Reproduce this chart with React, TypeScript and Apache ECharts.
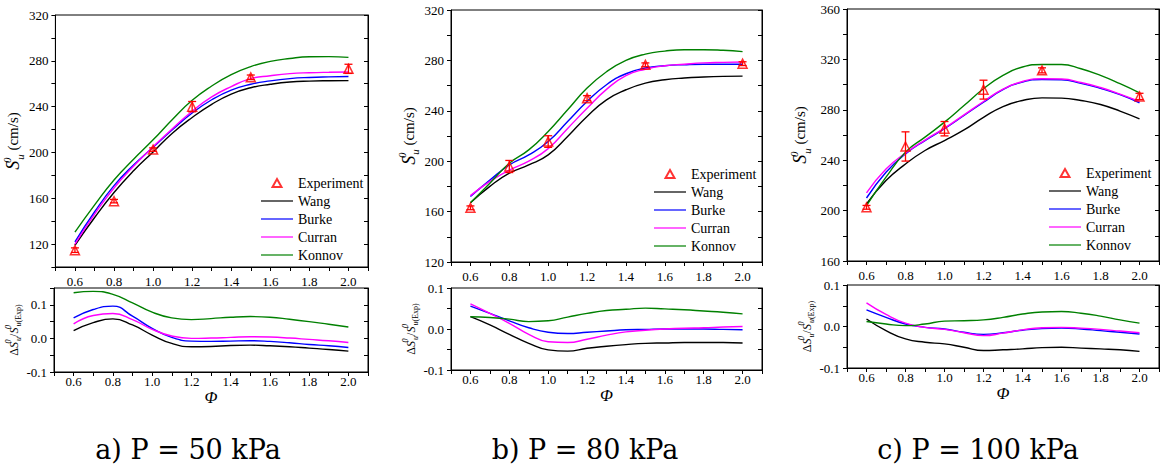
import { useEffect, useRef } from 'react';
import * as echarts from 'echarts';

// equivalence ratio grid used for the model curves
const phi = [0.6, 0.7, 0.8, 0.9, 1.0, 1.1, 1.2, 1.3, 1.4, 1.5, 1.6, 1.7, 1.8, 1.9, 2.0];
const expPhi = [0.6, 0.8, 1.0, 1.2, 1.5, 2.0];
const modelNames = ['Wang', 'Burke', 'Curran', 'Konnov'];
const modelColors = ['#000000', '#0000ff', '#ff00ff', '#008000'];
const captions = ['a) P = 50 kPa', 'b) P = 80 kPa', 'c) P = 100 kPa'];

// P = 50 kPa
const wang50 = [119, 143, 165, 184, 200.5, 217, 230.5, 242, 251, 256.5, 259.5, 261.5, 262.3, 262.6, 262.7];
const burke50 = [122, 148, 171, 189, 204.5, 220, 234.5, 246, 254.5, 259.5, 262.5, 264.5, 265.5, 266, 266.3];
const curran50 = [120, 146, 169, 188, 205, 221, 236, 248.5, 257.5, 264.5, 267, 268.8, 269.6, 270, 270.2];
const konnov50 = [130.5, 154, 176, 194, 211, 229, 245.5, 258, 268, 275, 279.5, 282, 283.5, 283.7, 283];
const exp50 = [114.7, 157.5, 202.5, 240, 265.6, 273];
const err50 = [2, 1.5, 1.5, 4.5, 2, 4];
const dWang50 = [0.023, 0.047, 0.058, 0.04, 0.01, -0.015, -0.025, -0.024, -0.021, -0.02, -0.022, -0.025, -0.029, -0.033, -0.038];
const dBurke50 = [0.061, 0.086, 0.096, 0.066, 0.03, 0.003, -0.008, -0.009, -0.008, -0.007, -0.009, -0.013, -0.018, -0.022, -0.027];
const dCurran50 = [0.043, 0.068, 0.074, 0.056, 0.027, 0.007, 0.0, 0.001, 0.003, 0.005, 0.004, 0.001, -0.003, -0.007, -0.012];
const dKonnov50 = [0.136, 0.14, 0.131, 0.106, 0.078, 0.061, 0.056, 0.059, 0.063, 0.065, 0.063, 0.057, 0.05, 0.042, 0.034];

// P = 80 kPa
const wang80 = [167, 180, 190.5, 197, 205, 219.6, 235.5, 248.7, 256.7, 262, 264.6, 266, 266.8, 267.3, 267.5];
const burke80 = [172, 185, 197, 205, 215.6, 231.5, 247.4, 260.7, 269.4, 274, 275.8, 276.6, 277, 277, 277];
const curran80 = [172.7, 184, 193, 200, 210, 226, 242, 257, 268, 273, 275.8, 277, 278, 278.4, 278.7];
const konnov80 = [167, 182.5, 198.4, 209, 223.6, 240.8, 258, 271, 280, 285, 287.4, 288.5, 288.5, 288, 287];
const exp80 = [163, 195.8, 215.6, 250, 276.5, 277.4];
const err80 = [1.5, 4.8, 4.6, 2, 1.5, 1.5];
const dWang80 = [0.03, 0.01, -0.013, -0.035, -0.051, -0.054, -0.047, -0.042, -0.038, -0.035, -0.034, -0.033, -0.033, -0.033, -0.034];
const dBurke80 = [0.056, 0.038, 0.02, 0.003, -0.008, -0.011, -0.008, -0.005, -0.002, -0.001, 0.0, 0.0, 0.0, -0.001, -0.002];
const dCurran80 = [0.061, 0.038, 0.014, -0.013, -0.031, -0.033, -0.025, -0.015, -0.007, -0.003, 0.0, 0.002, 0.003, 0.005, 0.006];
const dKonnov80 = [0.03, 0.028, 0.024, 0.018, 0.02, 0.029, 0.038, 0.045, 0.048, 0.051, 0.049, 0.047, 0.044, 0.041, 0.037];

// P = 100 kPa
const wang100 = [205.3, 223.8, 237, 247.7, 255.6, 264, 274, 282.6, 287.4, 289.5, 289.3, 287.4, 284.2, 279, 272.8];
const burke100 = [210, 230.5, 245, 255.6, 265, 275.5, 286, 296, 302, 304, 303.8, 301, 297, 292, 285.6];
const curran100 = [214, 233, 245.6, 256, 265.4, 276, 286.6, 296.4, 302.5, 304.6, 304.4, 301.7, 297.7, 292.5, 286.6];
const konnov100 = [204, 226.5, 246.4, 258.3, 270.2, 283.4, 296.7, 307.3, 314, 316, 316, 312.6, 307.3, 300.7, 293.5];
const exp100 = [202.6, 250.9, 265, 296, 311.3, 290.6];
const err100 = [1.5, 11.6, 5.7, 7.5, 2, 2.5];
const dWang100 = [0.018, -0.01, -0.03, -0.038, -0.042, -0.05, -0.058, -0.056, -0.054, -0.051, -0.05, -0.052, -0.054, -0.056, -0.06];
const dBurke100 = [0.04, 0.022, 0.006, -0.002, -0.006, -0.014, -0.019, -0.015, -0.009, -0.005, -0.004, -0.006, -0.01, -0.014, -0.018];
const dCurran100 = [0.057, 0.029, 0.008, -0.002, -0.007, -0.015, -0.022, -0.016, -0.008, -0.003, -0.002, -0.004, -0.007, -0.011, -0.015];
const dKonnov100 = [0.012, 0.006, 0.002, 0.006, 0.013, 0.014, 0.016, 0.022, 0.03, 0.035, 0.036, 0.032, 0.025, 0.016, 0.008];

const panels = [
  { lines: [wang50, burke50, curran50, konnov50], devs: [dWang50, dBurke50, dCurran50, dKonnov50], exp: exp50, err: err50, yMin: 100, yMax: 320, dMax: 0.15 },
  { lines: [wang80, burke80, curran80, konnov80], devs: [dWang80, dBurke80, dCurran80, dKonnov80], exp: exp80, err: err80, yMin: 120, yMax: 320, dMax: 0.1 },
  { lines: [wang100, burke100, curran100, konnov100], devs: [dWang100, dBurke100, dCurran100, dKonnov100], exp: exp100, err: err100, yMin: 160, yMax: 360, dMax: 0.1 },
];

// pixel layout of each panel
const layout = [
  { left: 54, width: 314, topT: 15, topB: 288, hB: 84, legLeft: 260, legTop: 176, gapT: 29, gapB: 22, capX: 188 },
  { left: 451, width: 311, topT: 10, topB: 288, hB: 82, legLeft: 653, legTop: 167, gapT: 28, gapB: 24, capX: 585 },
  { left: 847, width: 312, topT: 9, topB: 285, hB: 83, legLeft: 1048, legTop: 166, gapT: 35, gapB: 29, capX: 978 },
];

const FONT = '"Liberation Serif", "Times New Roman", serif';
const axisLineStyle = { color: '#000', width: 1 };

// legend icons: bounding box 32x12 kept by the two leading moves
const lineIcon = 'path://M0,0M32,12M0,5.4H32V6.6H0Z';
const triIcon = 'path://M0,0M32,12M16,2L20.5,10H11.5Z';

const phiLabel = (v: number) => {
  const k = Math.round(v * 10);
  return k % 2 === 0 ? (k / 10).toFixed(1) : '';
};
const speedLabel = (v: number) => (Math.round(v) % 40 === 0 ? String(Math.round(v)) : '');
const devLabel = (v: number) => {
  const k = Math.round(v * 100);
  return k % 10 === 0 ? (Math.round(v * 10) / 10).toFixed(1) : '';
};

const topName = '{i|S}{sup|0}{sub|u}{n| (cm/s)}';
const topRich = {
  i: { fontFamily: FONT, fontStyle: 'italic', fontSize: 18, lineHeight: 24, color: '#000' },
  sup: { fontFamily: FONT, fontStyle: 'italic', fontSize: 11, lineHeight: 12, verticalAlign: 'top', width: 1, color: '#000' },
  sub: { fontFamily: FONT, fontStyle: 'italic', fontSize: 11, lineHeight: 12, verticalAlign: 'bottom', color: '#000' },
  n: { fontFamily: FONT, fontSize: 15, lineHeight: 24, color: '#000' },
};
const botName = '{n|Δ}{i|S}{sup|0}{sub|u}{n|/}{i|S}{sup|0}{sub|u}{subn|(Exp)}';
const botRich = {
  n: { fontFamily: FONT, fontSize: 12, lineHeight: 18, color: '#000' },
  i: { fontFamily: FONT, fontStyle: 'italic', fontSize: 12, lineHeight: 18, color: '#000' },
  sup: { fontFamily: FONT, fontStyle: 'italic', fontSize: 8, lineHeight: 9, verticalAlign: 'top', width: 1, color: '#000' },
  sub: { fontFamily: FONT, fontStyle: 'italic', fontSize: 8, lineHeight: 9, verticalAlign: 'bottom', color: '#000' },
  subn: { fontFamily: FONT, fontSize: 8, lineHeight: 9, verticalAlign: 'bottom', color: '#000' },
};

function buildOption() {
  const grid: any[] = [];
  const xAxis: any[] = [];
  const yAxis: any[] = [];
  const series: any[] = [];
  const legend: any[] = [];
  const graphic: any[] = [];

  panels.forEach((p, i) => {
    const L = layout[i];
    const gTop = grid.length;
    const gBot = gTop + 1;
    grid.push({ left: L.left, top: L.topT, width: L.width, height: 252, show: true, borderColor: '#000', borderWidth: 1 });
    grid.push({ left: L.left, top: L.topB, width: L.width, height: L.hB, show: true, borderColor: '#000', borderWidth: 1 });

    [gTop, gBot].forEach((g, k) => {
      xAxis.push({
        gridIndex: g, type: 'value', min: 0.5, max: 2.1, interval: 0.1,
        axisLine: { show: true, onZero: false, lineStyle: axisLineStyle },
        axisTick: { show: true, length: 4, lineStyle: axisLineStyle },
        axisLabel: { formatter: phiLabel, margin: k === 0 ? 8 : 3, fontFamily: FONT, fontSize: 13, color: '#000' },
        splitLine: { show: false },
        name: k === 1 ? 'Φ' : '', nameLocation: 'middle', nameGap: 15,
        nameTextStyle: { fontFamily: FONT, fontStyle: 'italic', fontSize: 17, color: '#000' },
      });
      const yMin = k === 0 ? p.yMin : -0.1;
      const yMax = k === 0 ? p.yMax : p.dMax;
      const yInt = k === 0 ? 20 : 0.05;
      yAxis.push({
        gridIndex: g, type: 'value', position: 'left', min: yMin, max: yMax, interval: yInt,
        axisLine: { show: true, onZero: false, lineStyle: axisLineStyle },
        axisTick: { show: true, length: 4, lineStyle: axisLineStyle },
        axisLabel: { formatter: k === 0 ? speedLabel : devLabel, margin: 7, fontFamily: FONT, fontSize: 13, color: '#000' },
        splitLine: { show: false },
        name: k === 0 ? topName : botName, nameLocation: 'middle', nameGap: k === 0 ? L.gapT : L.gapB,
        nameTextStyle: { fontFamily: FONT, rich: k === 0 ? topRich : botRich },
      });
      yAxis.push({
        gridIndex: g, type: 'value', position: 'right', min: yMin, max: yMax, interval: yInt,
        axisLine: { show: true, onZero: false, lineStyle: axisLineStyle },
        axisTick: { show: true, inside: true, length: 4, lineStyle: axisLineStyle },
        axisLabel: { show: false },
        splitLine: { show: false },
      });
    });

    modelNames.forEach((name, m) => {
      series.push({
        name, type: 'line', xAxisIndex: gTop, yAxisIndex: gTop * 2,
        data: phi.map((x, j) => [x, p.lines[m][j]]),
        symbol: 'none', smooth: 0.5,
        lineStyle: { color: modelColors[m], width: 1.4 }, itemStyle: { color: modelColors[m] },
        z: 2,
      });
      series.push({
        name, type: 'line', xAxisIndex: gBot, yAxisIndex: gBot * 2,
        data: phi.map((x, j) => [x, p.devs[m][j]]),
        symbol: 'none', smooth: 0.5,
        lineStyle: { color: modelColors[m], width: 1.4 }, itemStyle: { color: modelColors[m] },
        z: 2,
      });
    });

    series.push({
      type: 'custom', xAxisIndex: gTop, yAxisIndex: gTop * 2, silent: true, z: 4,
      data: expPhi.map((x, j) => [x, p.exp[j] - p.err[j], p.exp[j] + p.err[j]]),
      encode: { x: 0, y: [1, 2] },
      renderItem: (_params: any, api: any) => {
        const lo = api.coord([api.value(0), api.value(1)]);
        const hi = api.coord([api.value(0), api.value(2)]);
        const w = 4;
        const style = { stroke: '#ff0000', lineWidth: 1.3 };
        return {
          type: 'group',
          children: [
            { type: 'line', shape: { x1: lo[0], y1: lo[1], x2: hi[0], y2: hi[1] }, style },
            { type: 'line', shape: { x1: lo[0] - w, y1: lo[1], x2: lo[0] + w, y2: lo[1] }, style },
            { type: 'line', shape: { x1: hi[0] - w, y1: hi[1], x2: hi[0] + w, y2: hi[1] }, style },
          ],
        };
      },
    });
    series.push({
      name: 'Experiment', type: 'scatter', xAxisIndex: gTop, yAxisIndex: gTop * 2, z: 5,
      data: expPhi.map((x, j) => [x, p.exp[j]]),
      symbol: 'triangle', symbolSize: 9,
      itemStyle: { color: 'rgba(255,255,255,0)', borderColor: '#ff0000', borderWidth: 1.5 },
    });

    legend.push({
      data: [
        { name: 'Experiment', icon: triIcon },
        ...modelNames.map((name) => ({ name, icon: lineIcon })),
      ],
      orient: 'vertical', left: L.legLeft, top: L.legTop,
      itemWidth: 32, itemHeight: 12, itemGap: 4, selectedMode: false, padding: 0,
      textStyle: { fontFamily: FONT, fontSize: 14, color: '#000' },
    });

    graphic.push({
      type: 'text', x: L.capX, y: 449, silent: true,
      style: { text: captions[i], font: '27px "DejaVu Serif"', textAlign: 'center', textVerticalAlign: 'middle', fill: '#000' },
    });
  });

  return {
    animation: false, backgroundColor: '#ffffff',
    textStyle: { fontFamily: FONT },
    grid, xAxis, yAxis, series, legend, graphic,
  };
}

export default function App() {
  const chartRef = useRef<HTMLDivElement>(null);
  useEffect(() => {
    const chart = echarts.init(chartRef.current, null, { renderer: 'svg' });
    chart.setOption(buildOption());
    return () => {
      chart.dispose();
    };
  }, []);
  return <div ref={chartRef} style={{ position: 'absolute', left: 0, top: 0, width: '1171px', height: '469px', background: '#fff' }} />;
}
